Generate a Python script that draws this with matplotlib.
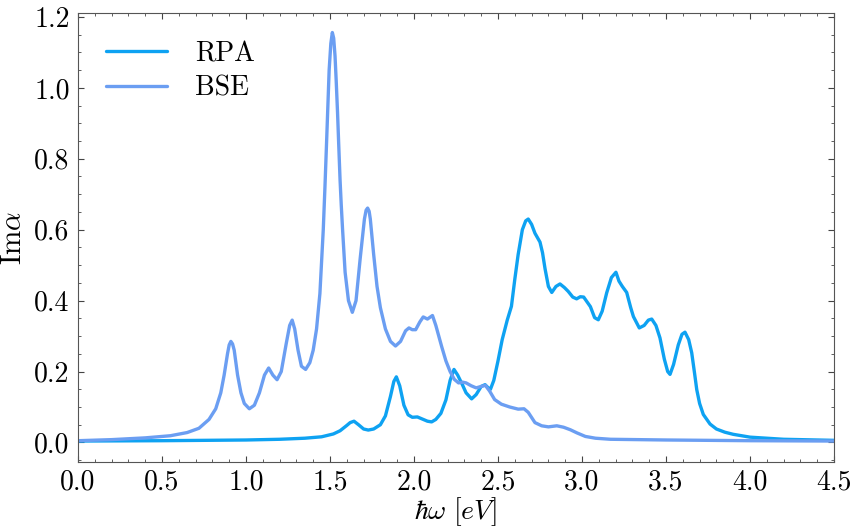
import numpy as np
import matplotlib
matplotlib.use("Agg")
import matplotlib.pyplot as plt

# ---- data ----
bse_x = [0.00, 0.20, 0.40, 0.55, 0.65, 0.72, 0.78, 0.82, 0.85, 0.87, 0.89, 0.90, 0.91, 0.92, 0.93, 0.95, 0.97, 0.99,
         1.02, 1.05, 1.08, 1.11, 1.135, 1.16, 1.185, 1.21, 1.24, 1.26, 1.275, 1.29, 1.31, 1.33, 1.355,
         1.38, 1.40, 1.42, 1.44, 1.46, 1.47, 1.48, 1.495, 1.505, 1.514, 1.522, 1.53, 1.537, 1.545, 1.552, 1.56,
         1.567, 1.575, 1.59, 1.61, 1.633,
         1.655, 1.68, 1.705, 1.715, 1.724, 1.733, 1.74, 1.76, 1.78, 1.80, 1.83, 1.86, 1.89, 1.92, 1.95, 1.97, 1.99,
         2.01, 2.035, 2.055, 2.08, 2.11, 2.13, 2.165, 2.19, 2.215, 2.24, 2.265, 2.29, 2.31, 2.34, 2.37,
         2.40, 2.425, 2.45, 2.48, 2.52, 2.57, 2.62, 2.655, 2.68, 2.72, 2.76, 2.80, 2.85, 2.89, 2.93,
         2.97, 3.02, 3.08, 3.17, 3.50, 4.00, 4.50]
bse_y = [0.005, 0.008, 0.013, 0.019, 0.028, 0.040, 0.065, 0.095, 0.14, 0.19, 0.25, 0.275, 0.285, 0.278, 0.26, 0.19, 0.14, 0.11,
         0.095, 0.105, 0.14, 0.19, 0.21, 0.19, 0.177, 0.20, 0.28, 0.33, 0.345, 0.32, 0.26, 0.215, 0.206,
         0.225, 0.26, 0.32, 0.42, 0.60, 0.72, 0.85, 1.05, 1.125, 1.156, 1.14, 1.09, 1.02, 0.93, 0.84, 0.74,
         0.67, 0.60, 0.48, 0.40, 0.367,
         0.40, 0.52, 0.63, 0.655, 0.661, 0.652, 0.63, 0.53, 0.44, 0.38, 0.32, 0.285, 0.272, 0.285, 0.315, 0.323, 0.318,
         0.318, 0.34, 0.354, 0.348, 0.358, 0.33, 0.27, 0.23, 0.20, 0.178, 0.168, 0.17, 0.168, 0.16, 0.154,
         0.158, 0.161, 0.145, 0.121, 0.108, 0.100, 0.094, 0.095, 0.085, 0.056, 0.047, 0.044, 0.047, 0.043, 0.036,
         0.027, 0.017, 0.012, 0.009, 0.007, 0.005, 0.004]

rpa_x = [0.0, 0.5, 1.0, 1.2, 1.35, 1.45, 1.52, 1.56, 1.60, 1.62, 1.643, 1.67, 1.70, 1.728, 1.76, 1.80,
         1.83, 1.86, 1.88, 1.895, 1.915, 1.94, 1.965, 1.99, 2.02, 2.05, 2.08, 2.105, 2.13, 2.16, 2.19,
         2.215, 2.238, 2.26, 2.285, 2.31, 2.343, 2.37, 2.40, 2.423, 2.44, 2.455, 2.475, 2.50, 2.525,
         2.555, 2.58, 2.60, 2.62, 2.645, 2.665, 2.68, 2.70, 2.72, 2.75, 2.765, 2.78, 2.80, 2.82, 2.845, 2.869,
         2.895, 2.918, 2.945, 2.968, 2.99, 3.01, 3.05, 3.075, 3.097, 3.12, 3.147, 3.175, 3.202, 3.22,
         3.24, 3.266, 3.29, 3.306, 3.341, 3.37, 3.395, 3.415, 3.44, 3.464, 3.49, 3.51, 3.524, 3.545,
         3.573, 3.595, 3.613, 3.635, 3.653, 3.67, 3.683, 3.70, 3.722, 3.762, 3.80, 3.85, 3.90, 4.00,
         4.20, 4.50]
rpa_y = [0.004, 0.005, 0.007, 0.009, 0.012, 0.016, 0.024, 0.033, 0.048, 0.056, 0.060, 0.050, 0.038, 0.035, 0.038, 0.050,
         0.075, 0.13, 0.172, 0.185, 0.16, 0.105, 0.078, 0.071, 0.072, 0.066, 0.060, 0.058, 0.065, 0.082, 0.12,
         0.175, 0.206, 0.19, 0.166, 0.14, 0.123, 0.135, 0.158, 0.163, 0.155, 0.150, 0.175, 0.23, 0.29,
         0.345, 0.384, 0.46, 0.53, 0.60, 0.625, 0.630, 0.615, 0.59, 0.565, 0.535, 0.49, 0.44, 0.423, 0.44, 0.447,
         0.437, 0.426, 0.41, 0.405, 0.411, 0.41, 0.383, 0.352, 0.346, 0.37, 0.422, 0.465, 0.48, 0.455,
         0.44, 0.423, 0.38, 0.355, 0.323, 0.33, 0.345, 0.348, 0.33, 0.295, 0.235, 0.20, 0.192, 0.22,
         0.275, 0.305, 0.311, 0.29, 0.253, 0.195, 0.149, 0.11, 0.079, 0.052, 0.038, 0.029, 0.023, 0.015,
         0.009, 0.006]

x_ticks = [0.0, 0.5, 1.0, 1.5, 2.0, 2.5, 3.0, 3.5, 4.0, 4.5]
y_ticks = [0.0, 0.2, 0.4, 0.6, 0.8, 1.0, 1.2]

# ---- style ----
plt.rcParams.update({
    "font.family": "serif",
    "font.serif": ["cmr10", "DejaVu Serif"],
    "mathtext.fontset": "cm",
    "axes.formatter.use_mathtext": True,
    "axes.unicode_minus": False,
    "font.size": 20,
})

fig = plt.figure(figsize=(8.54, 5.29), dpi=100)
ax = fig.add_axes([0.0913, 0.1267, 0.8853, 0.8487])

ax.plot(rpa_x, rpa_y, color="#0ea2f2", lw=2.4, label="RPA",
        solid_capstyle="round", solid_joinstyle="round")
ax.plot(bse_x, bse_y, color="#6b9ef2", lw=2.4, label="BSE",
        solid_capstyle="round", solid_joinstyle="round")

ax.set_xlim(0, 4.5)
ax.set_ylim(-0.055, 1.211)
ax.set_xticks(x_ticks)
ax.set_yticks(y_ticks)
ax.set_xticklabels([f"{v:.1f}" for v in x_ticks])
ax.set_yticklabels([f"{v:.1f}" for v in y_ticks])
ax.xaxis.set_minor_locator(matplotlib.ticker.MultipleLocator(0.1))
ax.yaxis.set_minor_locator(matplotlib.ticker.MultipleLocator(0.05))
ax.tick_params(which="both", direction="in", top=True, right=True, color="#444444")
ax.tick_params(which="major", length=4, width=0.8, pad=6, labelsize=20)
ax.tick_params(axis="x", which="major", pad=5)
ax.tick_params(which="minor", length=2, width=0.6)
for s in ax.spines.values():
    s.set_linewidth(0.8)
    s.set_color("#555555")

ax.set_xlabel(r"$\hbar\omega\ [eV]$", fontsize=20, labelpad=0)
ax.set_ylabel(r"Im$\alpha$", fontsize=21, labelpad=5)

ax.legend(loc="upper left", frameon=False, fontsize=20, handlelength=2.2,
          handletextpad=1.0, borderaxespad=0.6, labelspacing=0.3)

fig.savefig("out.png", dpi=100)
